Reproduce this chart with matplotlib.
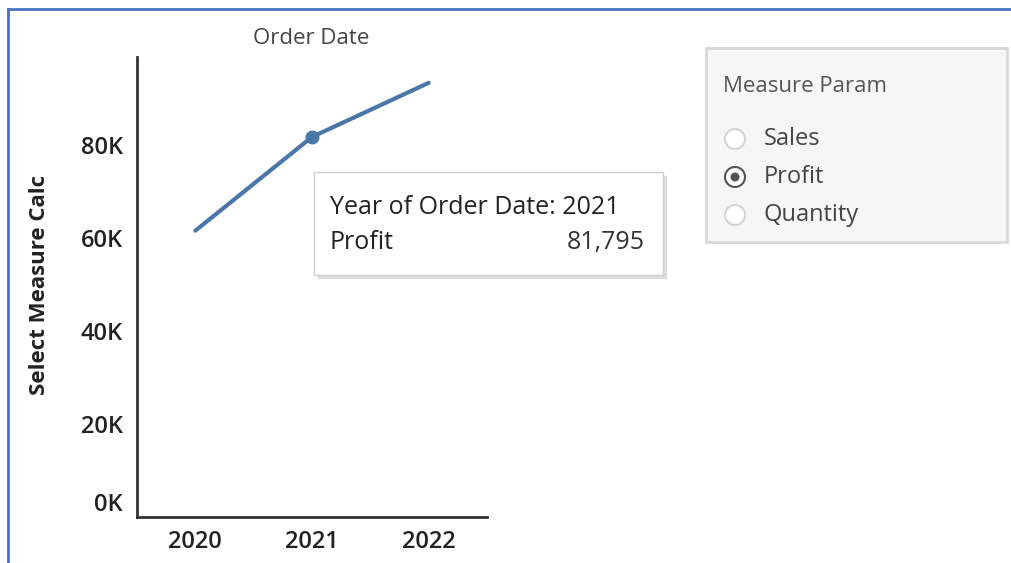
import matplotlib
matplotlib.use('Agg')
import matplotlib.pyplot as plt
from matplotlib.patches import Rectangle, Circle
from matplotlib.lines import Line2D
from matplotlib.ticker import FuncFormatter

years = ['2020', '2021', '2022']
profit = [61619, 81795, 93439]
hover_idx = 1
y_ticks = [0, 20000, 40000, 60000, 80000]
options = ['Sales', 'Profit', 'Quantity']
selected = 'Profit'

plt.rcParams['font.family'] = ['Open Sans', 'DejaVu Sans']

W, H = 1012, 563
fig = plt.figure(figsize=(W / 100, H / 100), dpi=100)
fig.patch.set_facecolor('white')

def fx(px):
    return px / W

def fy(py):
    return 1 - py / H

ax = fig.add_axes([fx(137), fy(517), fx(487) - fx(137), fy(57) - fy(517)])
x = list(range(len(years)))
ax.plot(x, profit, color='#4a76a8', lw=3, solid_capstyle='round')
ax.plot(x[hover_idx], profit[hover_idx], 'o', color='#4a76a8', ms=9)
ax.set_xlim(-0.5, len(years) - 0.5)
ax.set_ylim(0, 99000)
ax.set_xticks(x)
ax.set_xticklabels(years)
ax.set_yticks(y_ticks)
ax.yaxis.set_major_formatter(FuncFormatter(lambda v, p: '%dK' % (v / 1000)))
for s in ['top', 'right']:
    ax.spines[s].set_visible(False)
for s in ['left', 'bottom']:
    ax.spines[s].set_color('#333333')
    ax.spines[s].set_linewidth(2)
ax.tick_params(length=0, labelsize=17, colors='#222222')
ax.tick_params(axis='y', pad=10)
ax.tick_params(axis='x', pad=9)
for lab in ax.get_xticklabels() + ax.get_yticklabels():
    lab.set_fontweight('semibold')
ax.get_yticklabels()[0].set_va('bottom')

fig.text(fx(311), fy(38), 'Order Date', ha='center', va='center', fontsize=16, color='#444444')
fig.text(fx(40), fy(285), 'Select Measure Calc', ha='center', va='center', rotation=90,
         fontsize=16, fontweight='bold', color='#222222')

# tooltip
fig.patches.append(Rectangle((fx(318), fy(279)), fx(663) - fx(314), fy(172) - fy(275),
                             transform=fig.transFigure, facecolor='#bbbbbb', edgecolor='none',
                             alpha=0.5, zorder=5))
fig.patches.append(Rectangle((fx(314), fy(275)), fx(663) - fx(314), fy(172) - fy(275),
                             transform=fig.transFigure, facecolor='white', edgecolor='#cfcfcf',
                             lw=1, zorder=6))
fig.text(fx(330), fy(207), 'Year of Order Date: ' + years[hover_idx], ha='left', va='center',
         fontsize=18, color='#222222', zorder=7)
fig.text(fx(330), fy(242), selected, ha='left', va='center', fontsize=18, color='#222222', zorder=7)
fig.text(fx(645), fy(242), '{:,}'.format(profit[hover_idx]), ha='right', va='center',
         fontsize=18, color='#333333', zorder=7)

# parameter card
fig.patches.append(Rectangle((fx(706), fy(242)), fx(1007) - fx(706), fy(48) - fy(242),
                             transform=fig.transFigure, facecolor='#f6f6f6', edgecolor='#d8d8d8',
                             lw=2, zorder=2))
fig.text(fx(723), fy(86), 'Measure Param', ha='left', va='center', fontsize=16, color='#555555')
for i, opt in enumerate(options):
    cy = 139 + i * 38
    circ = Circle((735, H - cy), 10, transform=None, facecolor='white',
                  edgecolor='#555555' if opt == selected else '#d5d5d5', lw=1.5, zorder=3)
    fig.patches.append(circ)
    if opt == selected:
        fig.patches.append(Circle((735, H - cy), 4.5, transform=None, facecolor='#555555',
                                  edgecolor='none', zorder=4))
    fig.text(fx(764), fy(cy), opt, ha='left', va='center', fontsize=17, color='#444444')

# window border (top and left)
fig.lines.append(Line2D([fx(8), 1], [fy(9), fy(9)], transform=fig.transFigure, color='#4472c4', lw=2))
fig.lines.append(Line2D([fx(8), fx(8)], [0, fy(9)], transform=fig.transFigure, color='#4472c4', lw=2))

fig.savefig('out.png', dpi=100)
